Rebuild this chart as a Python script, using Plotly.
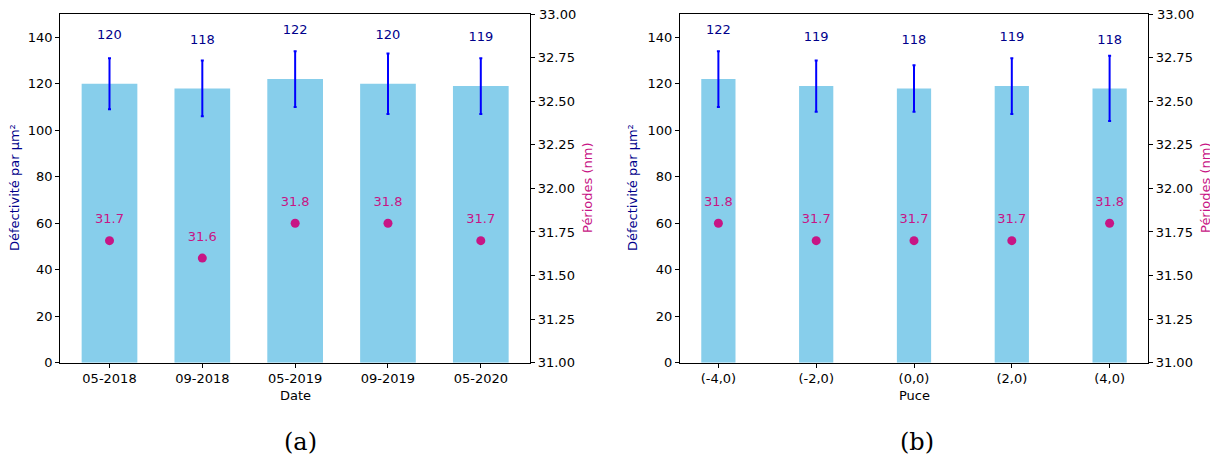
import plotly.graph_objects as go

# ---- data ----
dates = ["05-2018", "09-2018", "05-2019", "09-2019", "05-2020"]
defect_a = [120, 118, 122, 120, 119]
err_a = [11, 12, 12, 13, 12]
period_a = [31.7, 31.6, 31.8, 31.8, 31.7]

puces = ["(-4,0)", "(-2,0)", "(0,0)", "(2,0)", "(4,0)"]
defect_b = [122, 119, 118, 119, 118]
err_b = [12, 11, 10, 12, 14]
period_b = [31.8, 31.7, 31.7, 31.7, 31.8]

y_ticks = [0, 20, 40, 60, 80, 100, 120, 140]
y2_ticks = [31.0, 31.25, 31.5, 31.75, 32.0, 32.25, 32.5, 32.75, 33.0]

BAR = "#87CEEB"
ERR = "#0000FF"
NAVY = "#00008B"
PINK = "#C71585"
FONT = "DejaVu Sans"

W, H = 1218, 460
OFF = 8  # page body margin


def px(x):
    return (x - OFF) / W


def py(y):
    return 1 - (y - OFF) / H


fig = go.Figure()


def add_panel(cats, vals, errs, pers, bw, xa, ya, ya2):
    fig.add_trace(go.Bar(
        x=cats, y=vals, width=bw, marker=dict(color=BAR, line=dict(width=0)),
        error_y=dict(type="data", array=errs, visible=True, color=ERR,
                     thickness=2, width=1.5),
        xaxis=xa, yaxis=ya, showlegend=False, hoverinfo="skip"))
    fig.add_trace(go.Scatter(
        x=cats, y=[v + 20.6 for v in vals], mode="text",
        text=[str(v) for v in vals], textposition="middle center",
        textfont=dict(family=FONT, size=13, color=NAVY),
        xaxis=xa, yaxis=ya, showlegend=False, hoverinfo="skip"))
    fig.add_trace(go.Scatter(
        x=cats, y=pers, mode="markers",
        marker=dict(color=PINK, size=9, line=dict(width=0)),
        xaxis=xa, yaxis=ya2, showlegend=False, hoverinfo="skip"))
    fig.add_trace(go.Scatter(
        x=cats, y=[p + 0.118 for p in pers], mode="text",
        text=[f"{p:.1f}" for p in pers], textposition="middle center",
        textfont=dict(family=FONT, size=13, color=PINK),
        xaxis=xa, yaxis=ya2, showlegend=False, hoverinfo="skip"))


add_panel(dates, defect_a, err_a, period_a, 0.6, "x", "y", "y2")
add_panel(puces, defect_b, err_b, period_b, 0.35, "x2", "y3", "y4")

ydom = [py(362.7), py(14)]
xdom1 = [px(60.3), px(530)]
xdom2 = [px(680), px(1148)]

common = dict(showline=True, linecolor="black", linewidth=1.2, ticks="outside",
              ticklen=4, tickcolor="black", tickwidth=1, showgrid=False,
              zeroline=False, automargin=False,
              tickfont=dict(family=FONT, size=13, color="black"))

fig.update_layout(
    width=W, height=H, margin=dict(l=0, r=0, t=0, b=0, autoexpand=False),
    paper_bgcolor="white", plot_bgcolor="white",
    font=dict(family=FONT, size=13, color="black"),
    xaxis=dict(domain=xdom1, anchor="y", type="category", range=[-0.53, 4.53],
               mirror=True, **common),
    yaxis=dict(domain=ydom, anchor="x", range=[0, 150], tickvals=y_ticks, **common),
    yaxis2=dict(overlaying="y", side="right", anchor="x", range=[31, 33],
                tickvals=y2_ticks, tickformat=".2f", **common),
    xaxis2=dict(domain=xdom2, anchor="y3", type="category", range=[-0.3925, 4.3925],
                mirror=True, **common),
    yaxis3=dict(domain=ydom, anchor="x2", range=[0, 150], tickvals=y_ticks, **common),
    yaxis4=dict(overlaying="y3", side="right", anchor="x2", range=[31, 33],
                tickvals=y2_ticks, tickformat=".2f", **common),
)

ann = []


def A(text, x, y, color="black", size=13, angle=0, family=FONT, xanchor="center"):
    ann.append(dict(text=text, x=px(x), y=py(y), xref="paper", yref="paper",
                    xanchor=xanchor, yanchor="middle", showarrow=False,
                    textangle=angle, font=dict(family=family, size=size, color=color)))


A("Date", (60.3 + 530) / 2, 395)
A("Puce", (680 + 1148) / 2, 395)
A("Défectivité par µm²", 15, 188, NAVY, angle=-90)
A("Défectivité par µm²", 633, 188, NAVY, angle=-90)
A("Périodes (nm)", 588, 188, PINK, angle=-90)
A("Périodes (nm)", 1206, 188, PINK, angle=-90)
A("(a)", 300, 442, size=24, family="DejaVu Serif")
A("(b)", 917, 442, size=24, family="DejaVu Serif")
# top tick label of the right axes (hidden by plotly at the paper edge)
A(f"{y2_ticks[-1]:.2f}", 537, 14, xanchor="left")
A(f"{y2_ticks[-1]:.2f}", 1155, 14, xanchor="left")
fig.update_layout(annotations=ann)

fig.write_html("out.html")
